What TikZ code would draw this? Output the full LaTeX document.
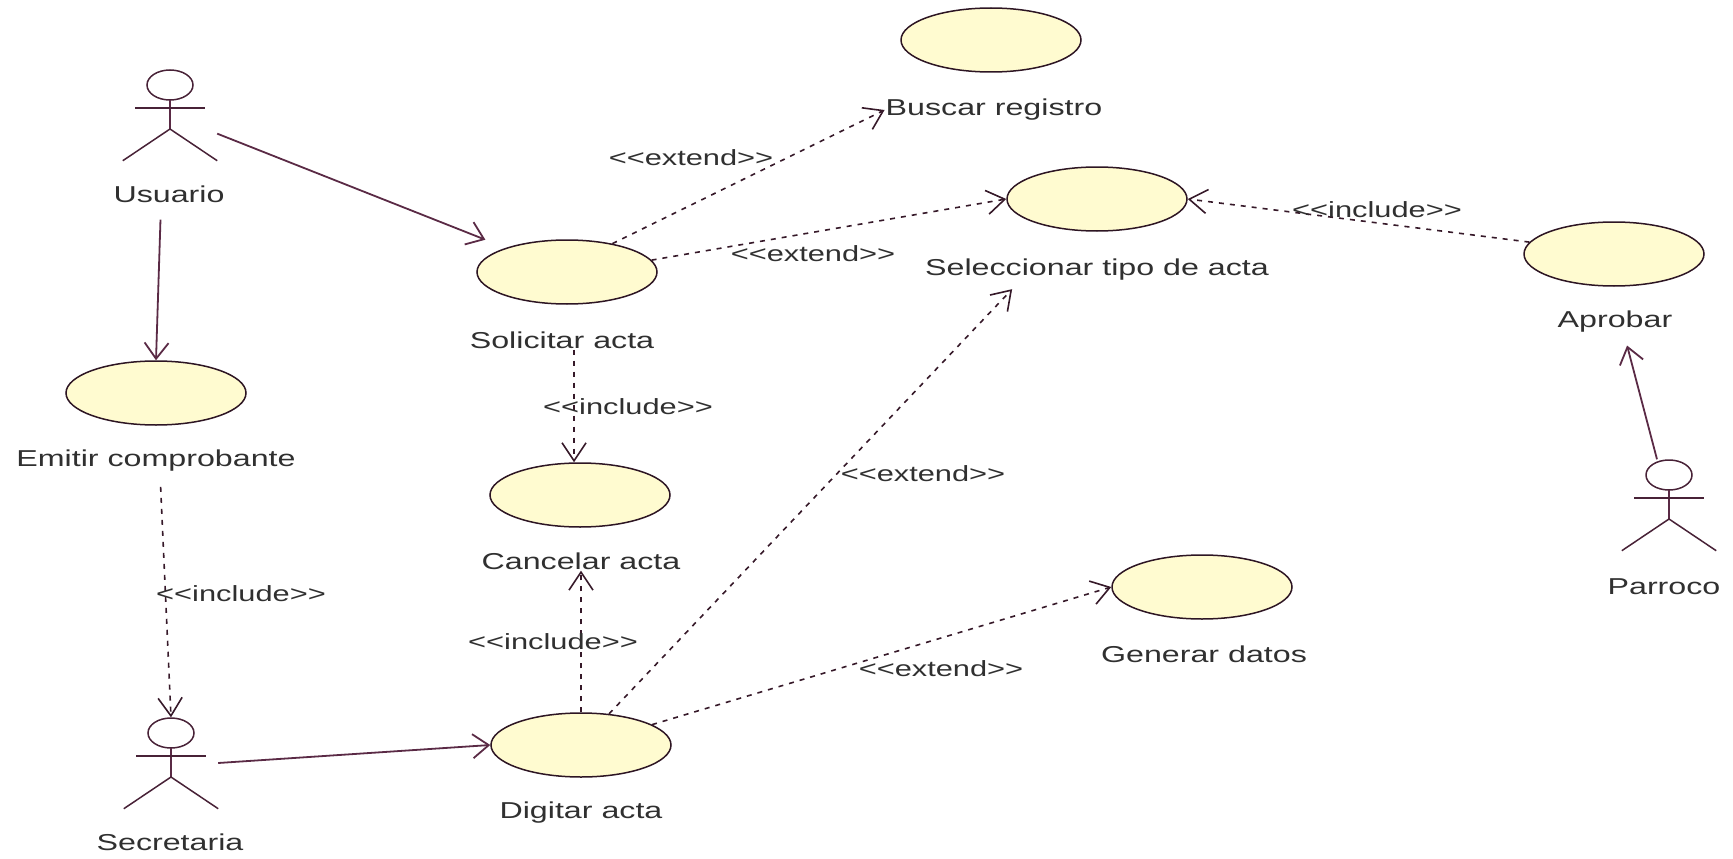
\documentclass[tikz,border=0pt]{standalone}
\usepackage{fontspec}
\usetikzlibrary{arrows.meta,shapes.geometric}
\newfontfamily\umlfont[FakeStretch=1.4]{Liberation Sans}
\definecolor{umlline}{HTML}{5A2A45}
\definecolor{umlfill}{HTML}{FFFBD0}
\definecolor{umltext}{HTML}{303030}
\tikzstyle{usecase} = [draw=umlline!50!black, ellipse, fill=umlfill, line width=1.5pt, minimum width=180pt, minimum height=64pt, inner sep=0pt]
\tikzstyle{casename} = [text=umltext, font=\umlfont\fontsize{23}{27}\selectfont, inner sep=1pt, yshift=-2pt]
\tikzstyle{stereo} = [text=umltext, font=\umlfont\fontsize{22}{26}\selectfont, inner sep=1pt]
\tikzstyle{actor} = [minimum width=94pt, minimum height=91pt, inner sep=0pt]
\tikzstyle{assoc} = [draw=umlline, line width=1.8pt, -{Straight Barb[length=16pt,width=24pt]}]
\tikzstyle{depend} = [draw=umlline!60!black, line width=1.6pt, dash pattern=on 5pt off 6pt, -{Straight Barb[length=18pt,width=24pt]}]
\newcommand{\stickman}[1]{
	\draw[umlline!80!black, line width=1.5pt] ([yshift=30pt]#1.center) ellipse (23pt and 15pt);
	\draw[umlline, line width=1.8pt] ([yshift=15pt]#1.center) -- ([yshift=-14pt]#1.center);
	\draw[umlline!80!black, line width=1.5pt] ([xshift=-35pt,yshift=7pt]#1.center) -- ([xshift=35pt,yshift=7pt]#1.center);
	\draw[umlline!80!black, line width=1.5pt] (#1.south west) -- ([yshift=-14pt]#1.center) -- (#1.south east);
}

\begin{document}
\begin{tikzpicture}[x=1pt, y=-1pt]
	\useasboundingbox (0,0) rectangle (1733,859);
	% use cases
	\node[usecase](emitir) at (156,393){};
	\node[usecase](solicitar) at (567,272){};
	\node[usecase](cancelar) at (580,495){};
	\node[usecase](digitar) at (581,745){};
	\node[usecase](buscar) at (991,40){};
	\node[usecase](seleccionar) at (1097,199){};
	\node[usecase](aprobar) at (1614,254){};
	\node[usecase](generar) at (1202,587){};
	% names
	\node[casename](lemitir) at (156,459){Emitir comprobante};
	\node[casename](lsolicitar) at (562,338){Solicitar acta};
	\node[casename](lcancelar) at (581,559){Cancelar acta};
	\node[casename](ldigitar) at (581,811){Digitar acta};
	\node[casename](lbuscar) at (994,108){Buscar registro};
	\node[casename](lseleccionar) at (1097,268){Seleccionar tipo de acta};
	\node[casename](laprobar) at (1615,320){Aprobar};
	\node[casename](lgenerar) at (1204,652){Generar datos};
	% actors
	\node[actor](usuario) at (170,115){};
	\node[actor](secretaria) at (171,763){};
	\node[actor](parroco) at (1669,505){};
	\stickman{usuario}
	\stickman{secretaria}
	\stickman{parroco}
	\node[casename](lusuario) at (169,192){Usuario};
	\node[casename](lsecretaria) at (170,840){Secretaria};
	\node[casename](lparroco) at (1664,585){Parroco};
	% connectors
	\path[assoc, shorten >=22pt] (usuario) -- (solicitar);
	\path[assoc, shorten <=16pt] ([xshift=-8pt]lusuario.south) -- (emitir.north);
	\path[depend, shorten <=14pt] ([xshift=4pt]lemitir.south) -- (secretaria.north);
	\path[assoc] (secretaria.east) -- (digitar.west);
	\path[depend] (solicitar.32) -- (lbuscar.west);
	\path[depend] (solicitar.8) -- (seleccionar.west);
	\path[depend] ([xshift=12pt]lsolicitar.south) -- ([xshift=-6pt]cancelar.north);
	\path[depend] (digitar.north) -- (lcancelar.south);
	\path[depend, shorten >=10pt] (digitar.48) -- ([xshift=-78pt]lseleccionar.south);
	\path[depend] (digitar.16) -- (generar.west);
	\path[depend] (aprobar.172) -- (seleccionar.east);
	\path[assoc, shorten >=12pt] ([xshift=-12pt]parroco.north) -- ([xshift=9pt]laprobar.south);
	% stereotypes
	\node[stereo](s1) at (691,158){<<extend>>};
	\node[stereo](s2) at (813,254){<<extend>>};
	\node[stereo](s3) at (1377,210){<<include>>};
	\node[stereo](s4) at (628,407){<<include>>};
	\node[stereo](s5) at (923,474){<<extend>>};
	\node[stereo](s6) at (241,594){<<include>>};
	\node[stereo](s7) at (553,642){<<include>>};
	\node[stereo](s8) at (941,669){<<extend>>};
\end{tikzpicture}
\end{document}
